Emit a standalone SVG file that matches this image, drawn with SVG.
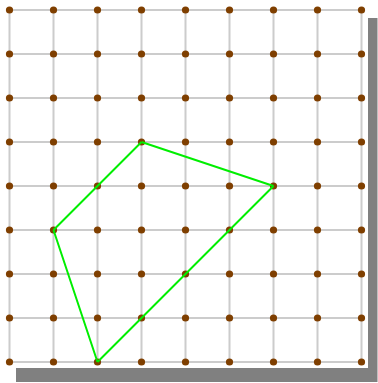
<svg xmlns="http://www.w3.org/2000/svg" width="378" height="383" viewBox="0 0 378 383">
<style>
.g{stroke:#cccccc;stroke-width:2;fill:none}
.d{fill:#7f3f00}
.e{stroke:#00ee00;stroke-width:2;fill:none;stroke-linejoin:round}
</style>
<defs><circle id="dot" r="3.6" class="d"/></defs>
<rect x="16" y="18" width="361.5" height="364" fill="#808080"/>
<rect x="0" y="0" width="368" height="368" fill="#ffffff"/>
<g id="grid" class="g">
<path d="M9.5 10V362M53.5 10V362M97.5 10V362M141.5 10V362M185.5 10V362M229.5 10V362M273.5 10V362M317.5 10V362M361.5 10V362"/>
<path d="M9.5 10H361.5M9.5 54H361.5M9.5 98H361.5M9.5 142H361.5M9.5 186H361.5M9.5 230H361.5M9.5 274H361.5M9.5 318H361.5M9.5 362H361.5"/>
</g>
<g id="nodes">
<g id="r0"><use href="#dot" x="9.5" y="10"/><use href="#dot" x="53.5" y="10"/><use href="#dot" x="97.5" y="10"/><use href="#dot" x="141.5" y="10"/><use href="#dot" x="185.5" y="10"/><use href="#dot" x="229.5" y="10"/><use href="#dot" x="273.5" y="10"/><use href="#dot" x="317.5" y="10"/><use href="#dot" x="361.5" y="10"/></g>
<g id="r1"><use href="#dot" x="9.5" y="54"/><use href="#dot" x="53.5" y="54"/><use href="#dot" x="97.5" y="54"/><use href="#dot" x="141.5" y="54"/><use href="#dot" x="185.5" y="54"/><use href="#dot" x="229.5" y="54"/><use href="#dot" x="273.5" y="54"/><use href="#dot" x="317.5" y="54"/><use href="#dot" x="361.5" y="54"/></g>
<g id="r2"><use href="#dot" x="9.5" y="98"/><use href="#dot" x="53.5" y="98"/><use href="#dot" x="97.5" y="98"/><use href="#dot" x="141.5" y="98"/><use href="#dot" x="185.5" y="98"/><use href="#dot" x="229.5" y="98"/><use href="#dot" x="273.5" y="98"/><use href="#dot" x="317.5" y="98"/><use href="#dot" x="361.5" y="98"/></g>
<g id="r3"><use href="#dot" x="9.5" y="142"/><use href="#dot" x="53.5" y="142"/><use href="#dot" x="97.5" y="142"/><use href="#dot" x="141.5" y="142"/><use href="#dot" x="185.5" y="142"/><use href="#dot" x="229.5" y="142"/><use href="#dot" x="273.5" y="142"/><use href="#dot" x="317.5" y="142"/><use href="#dot" x="361.5" y="142"/></g>
<g id="r4"><use href="#dot" x="9.5" y="186"/><use href="#dot" x="53.5" y="186"/><use href="#dot" x="97.5" y="186"/><use href="#dot" x="141.5" y="186"/><use href="#dot" x="185.5" y="186"/><use href="#dot" x="229.5" y="186"/><use href="#dot" x="273.5" y="186"/><use href="#dot" x="317.5" y="186"/><use href="#dot" x="361.5" y="186"/></g>
<g id="r5"><use href="#dot" x="9.5" y="230"/><use href="#dot" x="53.5" y="230"/><use href="#dot" x="97.5" y="230"/><use href="#dot" x="141.5" y="230"/><use href="#dot" x="185.5" y="230"/><use href="#dot" x="229.5" y="230"/><use href="#dot" x="273.5" y="230"/><use href="#dot" x="317.5" y="230"/><use href="#dot" x="361.5" y="230"/></g>
<g id="r6"><use href="#dot" x="9.5" y="274"/><use href="#dot" x="53.5" y="274"/><use href="#dot" x="97.5" y="274"/><use href="#dot" x="141.5" y="274"/><use href="#dot" x="185.5" y="274"/><use href="#dot" x="229.5" y="274"/><use href="#dot" x="273.5" y="274"/><use href="#dot" x="317.5" y="274"/><use href="#dot" x="361.5" y="274"/></g>
<g id="r7"><use href="#dot" x="9.5" y="318"/><use href="#dot" x="53.5" y="318"/><use href="#dot" x="97.5" y="318"/><use href="#dot" x="141.5" y="318"/><use href="#dot" x="185.5" y="318"/><use href="#dot" x="229.5" y="318"/><use href="#dot" x="273.5" y="318"/><use href="#dot" x="317.5" y="318"/><use href="#dot" x="361.5" y="318"/></g>
<g id="r8"><use href="#dot" x="9.5" y="362"/><use href="#dot" x="53.5" y="362"/><use href="#dot" x="97.5" y="362"/><use href="#dot" x="141.5" y="362"/><use href="#dot" x="185.5" y="362"/><use href="#dot" x="229.5" y="362"/><use href="#dot" x="273.5" y="362"/><use href="#dot" x="317.5" y="362"/><use href="#dot" x="361.5" y="362"/></g>
</g>
<g id="connectors" class="e">
<line x1="141.5" y1="142" x2="273.5" y2="186"/>
<line x1="273.5" y1="186" x2="97.5" y2="362"/>
<line x1="97.5" y1="362" x2="53.5" y2="230"/>
<line x1="53.5" y1="230" x2="141.5" y2="142"/>
</g>
</svg>
